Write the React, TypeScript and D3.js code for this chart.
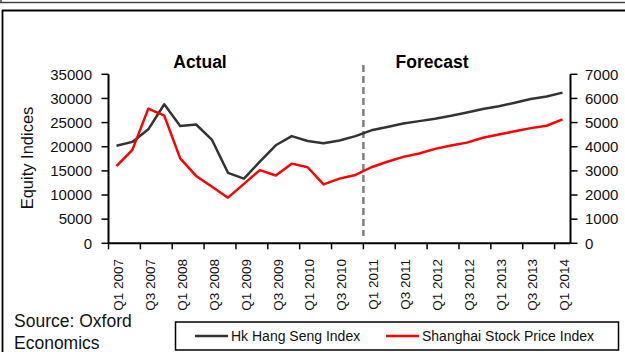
import React from "react";
import * as d3 from "d3";

// Quarterly categories, Q1 2007 – Q1 2014
const quarters = [
  "Q1 2007", "Q2 2007", "Q3 2007", "Q4 2007",
  "Q1 2008", "Q2 2008", "Q3 2008", "Q4 2008",
  "Q1 2009", "Q2 2009", "Q3 2009", "Q4 2009",
  "Q1 2010", "Q2 2010", "Q3 2010", "Q4 2010",
  "Q1 2011", "Q2 2011", "Q3 2011", "Q4 2011",
  "Q1 2012", "Q2 2012", "Q3 2012", "Q4 2012",
  "Q1 2013", "Q2 2013", "Q3 2013", "Q4 2013",
  "Q1 2014",
];

// Hang Seng index (left axis)
const hangSeng = [
  20200, 21000, 23600, 28800, 24300, 24600, 21400, 14600,
  13400, 16900, 20300, 22200, 21200, 20700, 21300, 22200,
  23400, 24100, 24800, 25300, 25800, 26400, 27100, 27800,
  28400, 29100, 29900, 30400, 31200,
];

// Shanghai composite (right axis)
const shanghai = [
  3200, 3870, 5580, 5290, 3520, 2790, 2340, 1890,
  2460, 3030, 2810, 3300, 3150, 2440, 2680, 2830,
  3150, 3380, 3580, 3720, 3910, 4050, 4170, 4370,
  4510, 4640, 4770, 4870, 5130,
];

const leftTicks = [0, 5000, 10000, 15000, 20000, 25000, 30000, 35000];
const rightTicks = [0, 1000, 2000, 3000, 4000, 5000, 6000, 7000];
const forecastStart = "Q1 2011";

const seriesNames = ["Hk Hang Seng Index", "Shanghai Stock Price Index"];
const seriesColors = ["#333333", "#ff0000"];

const FONT = "'Liberation Sans', Arial, sans-serif";

export default function App() {
  const W = 625;
  const H = 352;
  const left = 108.5;
  const right = 570.5;
  const top = 74.3;
  const bottom = 243.3;

  const x = d3.scaleBand<string>().domain(quarters).range([left, right]).padding(0);
  const yL = d3.scaleLinear().domain([0, 35000]).range([bottom, top]);
  const yR = d3.scaleLinear().domain([0, 7000]).range([bottom, top]);
  const cx = (q: string) => (x(q) as number) + x.bandwidth() / 2;

  const lineL = d3
    .line<number>()
    .x((_, i) => cx(quarters[i]))
    .y((d) => yL(d));
  const lineR = d3
    .line<number>()
    .x((_, i) => cx(quarters[i]))
    .y((d) => yR(d));

  const xTickIdx = quarters.map((_, i) => i).filter((i) => i % 2 === 0);
  const dashX = x(forecastStart) as number;

  return (
    <svg
      width={W}
      height={H}
      style={{ position: "absolute", left: 0, top: 0, background: "#fff" }}
      fontFamily={FONT}
    >
      {/* frames */}
      <line x1={0} x2={W} y1={2.5} y2={2.5} stroke="#444" strokeWidth={1.5} />
      <line x1={1} x2={1} y1={0} y2={3} stroke="#444" strokeWidth={1.5} />
      <line x1={2} x2={W} y1={10.5} y2={10.5} stroke="#000" strokeWidth={1.8} />
      <line x1={2.5} x2={2.5} y1={10} y2={H} stroke="#000" strokeWidth={1.8} />

      {/* section titles */}
      <text x={200} y={68} fontSize={17.5} fontWeight="bold" textAnchor="middle">
        Actual
      </text>
      <text x={432} y={68} fontSize={17.5} fontWeight="bold" textAnchor="middle">
        Forecast
      </text>

      {/* forecast divider */}
      <line
        x1={dashX}
        x2={dashX}
        y1={65}
        y2={236}
        stroke="#808080"
        strokeWidth={2.5}
        strokeDasharray="7,4"
      />

      {/* series */}
      <path d={lineL(hangSeng) || ""} fill="none" stroke={seriesColors[0]} strokeWidth={2.5} strokeLinejoin="round" />
      <path d={lineR(shanghai) || ""} fill="none" stroke={seriesColors[1]} strokeWidth={2.5} strokeLinejoin="round" />

      {/* left axis */}
      <line x1={left} x2={left} y1={top} y2={bottom} stroke="#000" strokeWidth={2} />
      {leftTicks.map((t) => (
        <g key={"l" + t}>
          <line x1={left - 7} x2={left} y1={yL(t)} y2={yL(t)} stroke="#000" strokeWidth={1.5} />
          <text x={92} y={yL(t)} dy="0.35em" fontSize={15} textAnchor="end" fill="#111">
            {t}
          </text>
        </g>
      ))}
      <text
        transform={`translate(27,158) rotate(-90)`}
        fontSize={16.5}
        textAnchor="middle"
        dy="0.35em"
        fill="#111"
      >
        Equity Indices
      </text>

      {/* right axis */}
      <line x1={right} x2={right} y1={top} y2={bottom} stroke="#000" strokeWidth={2} />
      {rightTicks.map((t) => (
        <g key={"r" + t}>
          <line x1={right} x2={right + 7} y1={yR(t)} y2={yR(t)} stroke="#000" strokeWidth={1.5} />
          <text x={585} y={yR(t)} dy="0.35em" fontSize={15} textAnchor="start" fill="#111">
            {t}
          </text>
        </g>
      ))}

      {/* category axis */}
      <line x1={left} x2={right} y1={bottom} y2={bottom} stroke="#000" strokeWidth={2} />
      {xTickIdx.map((i) => (
        <line
          key={"xt" + i}
          x1={x(quarters[i]) as number}
          x2={x(quarters[i]) as number}
          y1={bottom}
          y2={bottom + 6}
          stroke="#000"
          strokeWidth={1.5}
        />
      ))}
      {xTickIdx.map((i) => (
        <text
          key={"xl" + i}
          transform={`translate(${cx(quarters[i]) + 2},259) rotate(-90)`}
          fontSize={13.5}
          textAnchor="end"
          dy="0.35em"
          fill="#111"
        >
          {quarters[i]}
        </text>
      ))}

      {/* source note */}
      <text x={14} y={327} fontSize={17.5} fill="#111">
        Source: Oxford
      </text>
      <text x={14} y={349} fontSize={17.5} fill="#111">
        Economics
      </text>

      {/* legend */}
      <rect x={175.5} y={322} width={443} height={28} fill="#fff" stroke="#000" strokeWidth={1.5} />
      <line x1={195} x2={228} y1={336} y2={336} stroke={seriesColors[0]} strokeWidth={2.5} />
      <text x={231} y={336} dy="0.35em" fontSize={14} fill="#111">
        {seriesNames[0]}
      </text>
      <line x1={386} x2={419} y1={336} y2={336} stroke={seriesColors[1]} strokeWidth={2.5} />
      <text x={422} y={336} dy="0.35em" fontSize={14} fill="#111">
        {seriesNames[1]}
      </text>
    </svg>
  );
}
